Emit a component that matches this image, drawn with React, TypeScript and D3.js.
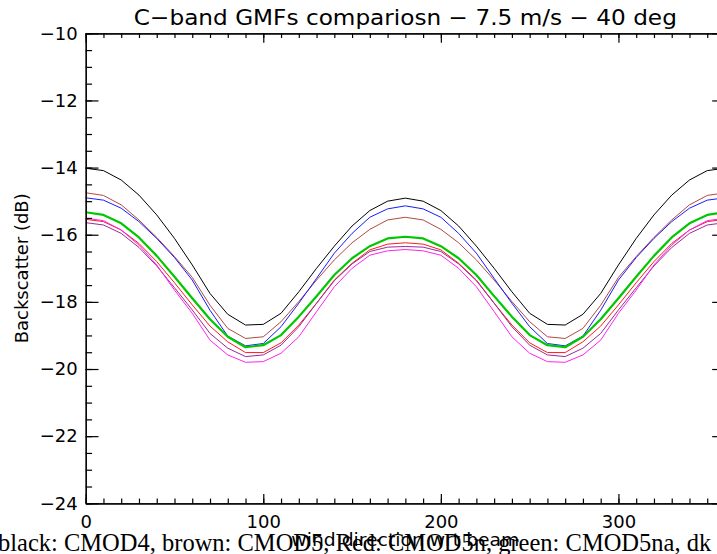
import React, { useRef, useEffect } from "react";
import * as d3 from "d3";

// wind direction (deg), one point every 10 deg
const angles = [
  0, 10, 20, 30, 40, 50, 60, 70, 80, 90, 100, 110, 120, 130, 140, 150, 160, 170, 180,
  190, 200, 210, 220, 230, 240, 250, 260, 270, 280, 290, 300, 310, 320, 330, 340, 350, 360,
];

// backscatter (dB)
const cmod4 = [
  -14.02, -14.09, -14.37, -14.82, -15.41, -16.11, -16.9, -17.75, -18.37, -18.69, -18.67, -18.34, -17.7, -17.0, -16.34, -15.74, -15.28, -15.0, -14.91,
  -15.0, -15.28, -15.74, -16.34, -17.0, -17.7, -18.34, -18.67, -18.69, -18.37, -17.75, -16.9, -16.11, -15.41, -14.82, -14.37, -14.09, -14.02,
];
const cmod5 = [
  -14.75, -14.83, -15.11, -15.56, -16.08, -16.65, -17.27, -18.1, -18.79, -19.09, -19.04, -18.59, -17.99, -17.35, -16.75, -16.24, -15.84, -15.56, -15.48,
  -15.56, -15.84, -16.24, -16.75, -17.35, -17.99, -18.59, -19.04, -19.09, -18.79, -18.1, -17.27, -16.65, -16.08, -15.56, -15.11, -14.83, -14.75,
];
const blueModel = [
  -14.9, -14.97, -15.21, -15.61, -16.11, -16.68, -17.35, -18.25, -19.02, -19.31, -19.24, -18.74, -18.04, -17.3, -16.55, -15.96, -15.48, -15.23, -15.14,
  -15.23, -15.48, -15.96, -16.55, -17.3, -18.04, -18.74, -19.24, -19.31, -19.02, -18.25, -17.35, -16.68, -16.11, -15.61, -15.21, -14.97, -14.9,
];
const cmod5na = [
  -15.33, -15.41, -15.66, -16.08, -16.63, -17.25, -17.89, -18.52, -19.04, -19.35, -19.29, -18.99, -18.44, -17.83, -17.2, -16.7, -16.34, -16.11, -16.06,
  -16.11, -16.34, -16.7, -17.2, -17.83, -18.44, -18.99, -19.29, -19.35, -19.04, -18.52, -17.89, -17.25, -16.63, -16.08, -15.66, -15.41, -15.33,
];
const cmod5n = [
  -15.54, -15.61, -15.86, -16.26, -16.8, -17.43, -18.09, -18.72, -19.19, -19.51, -19.51, -19.22, -18.69, -18.04, -17.35, -16.85, -16.45, -16.28, -16.24,
  -16.28, -16.45, -16.85, -17.35, -18.04, -18.69, -19.22, -19.51, -19.51, -19.19, -18.72, -18.09, -17.43, -16.8, -16.26, -15.86, -15.61, -15.54,
];
const purpleModel = [
  -15.64, -15.71, -15.96, -16.38, -16.93, -17.58, -18.24, -18.94, -19.38, -19.63, -19.58, -19.29, -18.74, -18.04, -17.37, -16.87, -16.5, -16.37, -16.35,
  -16.37, -16.5, -16.87, -17.37, -18.04, -18.74, -19.29, -19.58, -19.63, -19.38, -18.94, -18.24, -17.58, -16.93, -16.38, -15.96, -15.71, -15.64,
];
const magentaModel = [
  -15.51, -15.58, -15.86, -16.31, -16.9, -17.65, -18.34, -19.14, -19.58, -19.8, -19.78, -19.53, -19.04, -18.29, -17.55, -17.0, -16.61, -16.48, -16.44,
  -16.48, -16.61, -17.0, -17.55, -18.29, -19.04, -19.53, -19.78, -19.8, -19.58, -19.14, -18.34, -17.65, -16.9, -16.31, -15.86, -15.58, -15.51,
];

const xTicks = [0, 100, 200, 300];
const yTicks = [-24, -22, -20, -18, -16, -14, -12, -10];

const title = "C\u2212band GMFs compariosn \u2212 7.5 m/s \u2212 40 deg";
const xTitle = "wind direction wrt beam";
const yTitle = "Backscatter (dB)";
const caption = "black: CMOD4, brown: CMOD5, Red: CMOD5n, green: CMOD5na, dk";

const App = () => {
  const ref = useRef<SVGSVGElement>(null);

  useEffect(() => {
    const svg = d3.select(ref.current);
    svg.selectAll("*").remove();

    const box = { left: 85.7, right: 725, top: 33.3, bottom: 503.3 };
    const font = "'DejaVu Sans', sans-serif";

    const x = d3.scaleLinear().domain([0, 360]).range([box.left, box.right]);
    const y = d3.scaleLinear().domain([-24, -10]).range([box.bottom, box.top]);

    const series = [
      { values: cmod4, color: "#000000", width: 1 },
      { values: cmod5, color: "#b04a40", width: 1 },
      { values: blueModel, color: "#1a1aff", width: 1 },
      { values: cmod5na, color: "#00c800", width: 2.2 },
      { values: cmod5n, color: "#ff1a1a", width: 1 },
      { values: purpleModel, color: "#9a2a9a", width: 1 },
      { values: magentaModel, color: "#ff22f0", width: 1 },
    ];

    const line = d3
      .line<number>()
      .x((d, i) => x(angles[i]))
      .y((d) => y(d));

    series.forEach((s) => {
      svg
        .append("path")
        .datum(s.values)
        .attr("fill", "none")
        .attr("stroke", s.color)
        .attr("stroke-width", s.width)
        .attr("stroke-linejoin", "round")
        .attr("d", line);
    });

    const minorX = d3.range(0, 361, 10);
    const minorY = d3.range(-24, -9.9, 0.5);

    const styleAxis = (g) => {
      g.selectAll(".domain").attr("stroke", "#000").attr("stroke-width", 1.2);
      g.selectAll(".tick line").attr("stroke", "#000").attr("stroke-width", 1.2);
      g.attr("font-family", font).attr("font-size", 18);
      g.selectAll("text").attr("fill", "#000");
    };

    // bottom
    svg
      .append("g")
      .attr("transform", `translate(0,${box.bottom})`)
      .call(d3.axisBottom(x).tickValues(minorX).tickSize(-4.7).tickSizeOuter(0).tickFormat(() => ""))
      .call(styleAxis);
    svg
      .append("g")
      .attr("transform", `translate(0,${box.bottom})`)
      .call(d3.axisBottom(x).tickValues(xTicks).tickSize(-9.4).tickSizeOuter(0).tickPadding(12).tickFormat(d3.format("d")))
      .call(styleAxis);

    // top
    svg
      .append("g")
      .attr("transform", `translate(0,${box.top})`)
      .call(d3.axisTop(x).tickValues(minorX).tickSize(-4.7).tickSizeOuter(0).tickFormat(() => ""))
      .call(styleAxis);
    svg
      .append("g")
      .attr("transform", `translate(0,${box.top})`)
      .call(d3.axisTop(x).tickValues(xTicks).tickSize(-9.4).tickSizeOuter(0).tickFormat(() => ""))
      .call(styleAxis);

    // left
    svg
      .append("g")
      .attr("transform", `translate(${box.left},0)`)
      .call(d3.axisLeft(y).tickValues(minorY).tickSize(-6.4).tickSizeOuter(0).tickFormat(() => ""))
      .call(styleAxis);
    svg
      .append("g")
      .attr("transform", `translate(${box.left},0)`)
      .call(d3.axisLeft(y).tickValues(yTicks).tickSize(-12.8).tickSizeOuter(0).tickPadding(8).tickFormat(d3.format("d")))
      .call(styleAxis);

    // right
    svg
      .append("g")
      .attr("transform", `translate(${box.right},0)`)
      .call(d3.axisRight(y).tickValues(minorY).tickSize(-6.4).tickSizeOuter(0).tickFormat(() => ""))
      .call(styleAxis);
    svg
      .append("g")
      .attr("transform", `translate(${box.right},0)`)
      .call(d3.axisRight(y).tickValues(yTicks).tickSize(-12.8).tickSizeOuter(0).tickFormat(() => ""))
      .call(styleAxis);

    const cx = (box.left + box.right) / 2;

    svg
      .append("text")
      .attr("x", cx)
      .attr("y", 25)
      .attr("text-anchor", "middle")
      .attr("font-family", font)
      .attr("font-size", 21)
      .attr("textLength", 543)
      .attr("lengthAdjust", "spacingAndGlyphs")
      .text(title);

    svg
      .append("text")
      .attr("transform", `translate(28,${(box.top + box.bottom) / 2}) rotate(-90)`)
      .attr("text-anchor", "middle")
      .attr("font-family", font)
      .attr("font-size", 17)
      .attr("textLength", 150)
      .attr("lengthAdjust", "spacingAndGlyphs")
      .text(yTitle);

    svg
      .append("text")
      .attr("x", cx)
      .attr("y", 546)
      .attr("text-anchor", "middle")
      .attr("font-family", font)
      .attr("font-size", 17)
      .attr("textLength", 228)
      .attr("lengthAdjust", "spacingAndGlyphs")
      .text(xTitle);

    svg
      .append("text")
      .attr("x", -2)
      .attr("y", 551)
      .attr("font-family", "'Liberation Serif', 'Times New Roman', serif")
      .attr("font-size", 24.5)
      .text(caption);
  }, []);

  return (
    <svg
      ref={ref}
      width={717}
      height={554}
      style={{ position: "absolute", left: 0, top: 0, background: "#fff" }}
    ></svg>
  );
};

export default App;
